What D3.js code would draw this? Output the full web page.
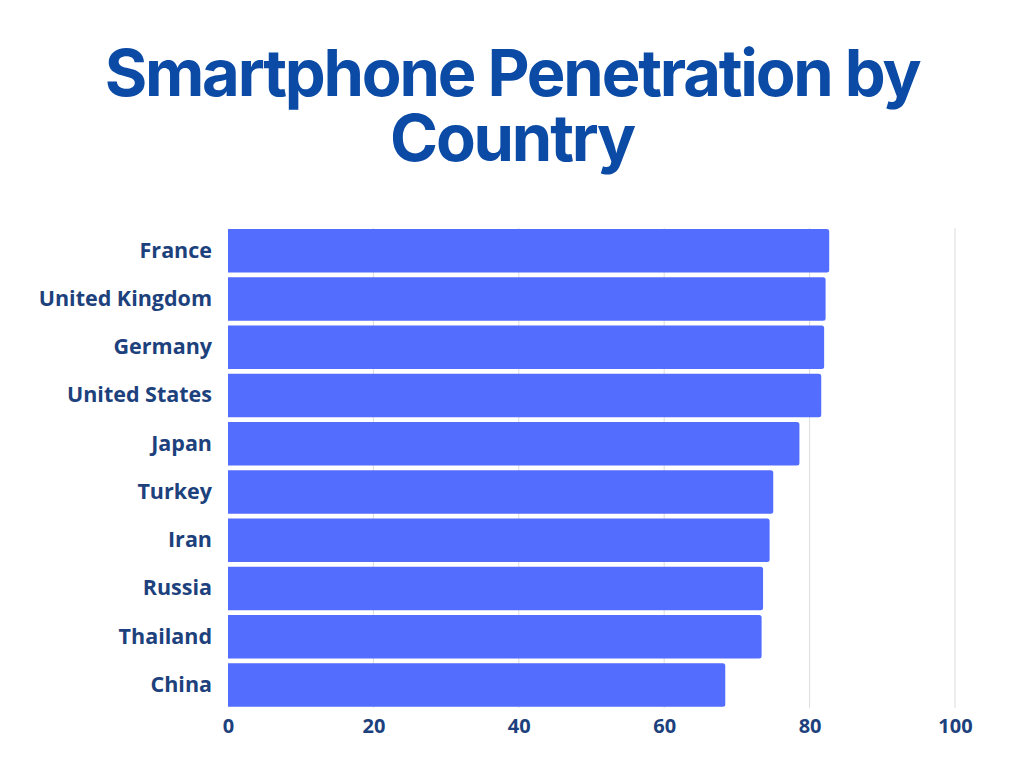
<!DOCTYPE html>
<html>
<head>
<meta charset="utf-8">
<script src="https://cdn.jsdelivr.net/npm/d3@7"></script>
<style>
  html, body { margin: 0; padding: 0; background: #ffffff; }
  svg { display: block; }
</style>
</head>
<body>
<svg id="chart" width="1024" height="768"></svg>
<script>
const countries = ["France", "United Kingdom", "Germany", "United States", "Japan", "Turkey", "Iran", "Russia", "Thailand", "China"];
const penetration = [82.7, 82.2, 82.0, 81.6, 78.6, 75.0, 74.5, 73.6, 73.4, 68.4];
const xTicks = [0, 20, 40, 60, 80, 100];
const titleLines = ["Smartphone Penetration by", "Country"];

const svg = d3.select("#chart");
const W = 1024, H = 768;

svg.append("rect").attr("width", W).attr("height", H).attr("fill", "#ffffff");

const x = d3.scaleLinear().domain([0, 100]).range([228, 955]);
const y = d3.scaleBand().domain(countries).range([226.6, 709.1]).paddingInner(0.1).paddingOuter(0.05);

// Title
const title = svg.append("text")
  .attr("text-anchor", "middle")
  .attr("fill", "#0b4ba6")
  .style("font-family", "Inter, 'Open Sans', sans-serif")
  .style("font-weight", "700")
  .style("font-size", "65px")
  .style("letter-spacing", "-2.2px");
titleLines.forEach((t, i) => {
  title.append("tspan").attr("x", W / 2).attr("y", 96 + i * 65).text(t);
});

// Gridlines
svg.append("g")
  .selectAll("line")
  .data(xTicks.filter(d => d > 0))
  .join("line")
  .attr("x1", d => x(d)).attr("x2", d => x(d))
  .attr("y1", 228).attr("y2", 708)
  .attr("stroke", "#dcdcdc")
  .attr("stroke-width", 1);

// Bars (rounded right corners)
const r = 2.5;
svg.append("g")
  .selectAll("path")
  .data(countries.map((c, i) => ({ c, v: penetration[i] })))
  .join("path")
  .attr("fill", "#536dfe")
  .attr("d", d => {
    const x0 = x(0), x1 = x(d.v), y0 = y(d.c), h = y.bandwidth();
    return `M${x0},${y0} H${x1 - r} Q${x1},${y0} ${x1},${y0 + r} V${y0 + h - r} Q${x1},${y0 + h} ${x1 - r},${y0 + h} H${x0} Z`;
  });

// Y axis labels
const yAxis = d3.axisLeft(y).tickSize(0).tickPadding(0);
const gy = svg.append("g").attr("transform", "translate(212,0)").call(yAxis);
gy.select(".domain").remove();
gy.selectAll("text")
  .attr("fill", "#1c417c")
  .style("font-family", "'Open Sans', sans-serif")
  .style("font-weight", "700")
  .style("font-size", "21.5px");

// X axis labels
const xAxis = d3.axisBottom(x).tickValues(xTicks).tickSize(0).tickPadding(0).tickFormat(d3.format("d"));
const gx = svg.append("g").attr("transform", "translate(0,719)").call(xAxis);
gx.select(".domain").remove();
gx.selectAll("text")
  .attr("fill", "#1c417c")
  .style("font-family", "'Open Sans', sans-serif")
  .style("font-weight", "700")
  .style("font-size", "20px");
</script>
</body>
</html>
